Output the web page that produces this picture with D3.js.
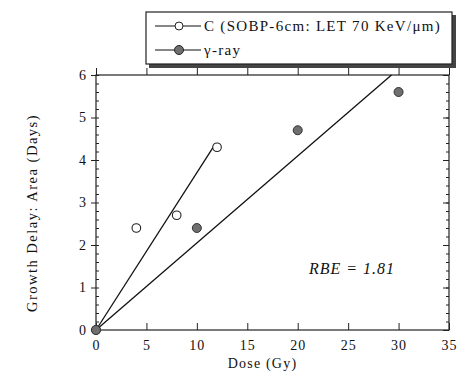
<!DOCTYPE html>
<html><head><meta charset="utf-8">
<script src="https://cdn.jsdelivr.net/npm/d3@7"></script>
<style>body{margin:0;background:#fff}svg{display:block}text{font-family:"Liberation Serif","DejaVu Serif",serif;fill:#111}</style>
</head><body><svg id="c" width="458" height="372"></svg>
<script>
// Carbon-ion (SOBP) growth-delay measurements
const carbonDose = [0, 4, 8, 12];
const carbonDelay = [0, 2.4, 2.7, 4.3];
// Gamma-ray growth-delay measurements
const gammaDose = [0, 10, 20, 30];
const gammaDelay = [0, 2.4, 4.7, 5.6];
// Fitted lines through the origin (end points)
const carbonFit = [[0, 0], [11.8, 4.37]];
const gammaFit = [[0, 0], [29.3, 6.0]];
const xTicks = [0, 5, 10, 15, 20, 25, 30, 35];
const yTicks = [0, 1, 2, 3, 4, 5, 6];
const legendLabels = ["C (SOBP-6cm: LET 70 KeV/\u03bcm)", "\u03b3-ray"];

const serif = '"Liberation Serif","DejaVu Serif",serif';
const svg = d3.select("#c");
const m = {l: 96, r: 449, t: 75, b: 330};
const x = d3.scaleLinear().domain([0, 35]).range([m.l, m.r]);
const y = d3.scaleLinear().domain([0, 6]).range([m.b, m.t]);

// frame
svg.append("rect").attr("x", m.l).attr("y", m.t).attr("width", m.r - m.l).attr("height", m.b - m.t)
  .attr("fill", "none").attr("stroke", "#222").attr("stroke-width", 1.2);

// bottom axis: labels, inward major ticks
const bottom = svg.append("g").attr("transform", `translate(0,${m.b})`)
  .call(d3.axisBottom(x).tickValues(xTicks).tickSize(0).tickPadding(10).tickFormat(d3.format("d")))
  .attr("font-family", serif).attr("font-size", 14);
bottom.select(".domain").remove();
bottom.selectAll("text").attr("letter-spacing", 1);
svg.append("g").attr("transform", `translate(0,${m.b})`)
  .call(d3.axisTop(x).tickValues(xTicks).tickSize(7).tickFormat(""))
  .call(g => g.select(".domain").remove());
// top axis: outward major ticks
svg.append("g").attr("transform", `translate(0,${m.t})`)
  .call(d3.axisTop(x).tickValues(xTicks).tickSize(7).tickFormat(""))
  .call(g => g.select(".domain").remove());

// left axis: labels, outward major ticks, inward minor ticks
const left = svg.append("g").attr("transform", `translate(${m.l},0)`)
  .call(d3.axisLeft(y).tickValues(yTicks).tickSize(5).tickPadding(5).tickFormat(d3.format("d")))
  .attr("font-family", serif).attr("font-size", 14);
left.select(".domain").remove();
const minorY = d3.range(0, 6.01, 0.2);
svg.append("g").attr("transform", `translate(${m.l},0)`)
  .call(d3.axisRight(y).tickValues(minorY).tickSize(3).tickFormat(""))
  .call(g => g.select(".domain").remove());
// right axis: inward minor and major ticks
svg.append("g").attr("transform", `translate(${m.r},0)`)
  .call(d3.axisLeft(y).tickValues(minorY).tickSize(3).tickFormat(""))
  .call(g => g.select(".domain").remove());
svg.append("g").attr("transform", `translate(${m.r},0)`)
  .call(d3.axisLeft(y).tickValues(yTicks).tickSize(6).tickFormat(""))
  .call(g => g.select(".domain").remove());
svg.selectAll(".tick line").attr("stroke", "#222");

// axis titles
svg.append("text").attr("x", x(17.5) - 10).attr("y", 368).attr("text-anchor", "middle")
  .attr("font-size", 14).attr("letter-spacing", 1.2).text("Dose (Gy)");
svg.append("text").attr("transform", `translate(37,213) rotate(-90)`).attr("text-anchor", "middle")
  .attr("font-size", 14.5).attr("letter-spacing", 1.5).text("Growth Delay: Area (Days)");

// fitted lines
const line = d3.line().x(d => x(d[0])).y(d => y(d[1]));
[carbonFit, gammaFit].forEach(f => svg.append("path").attr("d", line(f))
  .attr("fill", "none").attr("stroke", "#111").attr("stroke-width", 1.3));

// points
const cPts = carbonDose.map((d, i) => [d, carbonDelay[i]]);
const gPts = gammaDose.map((d, i) => [d, gammaDelay[i]]);
svg.selectAll(".cp").data(cPts).join("circle")
  .attr("cx", d => x(d[0])).attr("cy", d => y(d[1])).attr("r", 4.3)
  .attr("fill", "#fff").attr("stroke", "#222").attr("stroke-width", 1.1);
svg.selectAll(".gp").data(gPts).join("circle")
  .attr("cx", d => x(d[0])).attr("cy", d => y(d[1])).attr("r", 4.5)
  .attr("fill", "#6f6f6f").attr("stroke", "#333").attr("stroke-width", 1);

// RBE annotation
svg.append("text").attr("x", 309).attr("y", 274).attr("font-size", 16).attr("font-style", "italic")
  .attr("letter-spacing", 1).text("RBE = 1.81");

// legend with drop shadow
const lg = svg.append("g");
lg.append("rect").attr("x", 149).attr("y", 15).attr("width", 307).attr("height", 53).attr("fill", "#444");
lg.append("rect").attr("x", 146).attr("y", 12).attr("width", 306).attr("height", 52)
  .attr("fill", "#fff").attr("stroke", "#222").attr("stroke-width", 1.2);
legendLabels.forEach((t, i) => {
  const ly = 26 + i * 24;
  lg.append("line").attr("x1", 155).attr("x2", 201).attr("y1", ly).attr("y2", ly).attr("stroke", "#111").attr("stroke-width", 1.2);
  lg.append("circle").attr("cx", 179).attr("cy", ly).attr("r", i ? 4.5 : 4)
    .attr("fill", i ? "#6f6f6f" : "#fff").attr("stroke", "#222");
  lg.append("text").attr("x", 204).attr("y", ly + 5).attr("font-size", 15).attr("letter-spacing", 1.3).text(t);
});
</script></body></html>
